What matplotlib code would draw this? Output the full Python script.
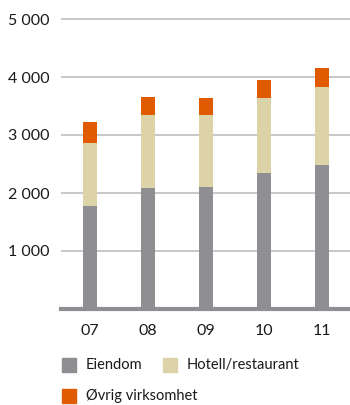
import matplotlib
matplotlib.use("Agg")
import matplotlib.pyplot as plt
from matplotlib.patches import Rectangle
import numpy as np

plt.rcParams['font.family'] = ['Lato', 'DejaVu Sans']

years = ["07", "08", "09", "10", "11"]
eiendom = [1776, 2086, 2103, 2345, 2483]
hotell = [1086, 1259, 1242, 1293, 1345]
ovrig = [362, 310, 293, 310, 327]
series_labels = ["Eiendom", "Hotell/restaurant", "Øvrig virksomhet"]
y_ticks = [1000, 2000, 3000, 4000, 5000]
y_tick_labels = ["1 000", "2 000", "3 000", "4 000", "5 000"]

colors = ["#8f8e93", "#ddd3a9", "#e05a00"]
grid_color = "#c3c3c3"

W, H = 350, 405
fig = plt.figure(figsize=(W / 100, H / 100), dpi=100)
# axes in pixel terms: left 61, baseline 309, 58 px per 1000
top_px = 309 - 5.1 * 58
ax = fig.add_axes([61 / W, 1 - 309 / H, 1 - 61 / W, (309 - top_px) / H])

x = np.arange(len(years))
w = 14 / 58
e = np.array(eiendom)
h = np.array(hotell)
o = np.array(ovrig)
ax.bar(x, e, w, color=colors[0], zorder=3)
ax.bar(x, h, w, bottom=e, color=colors[1], zorder=3)
ax.bar(x, o, w, bottom=e + h, color=colors[2], zorder=3)

ax.set_xlim(-0.5, (350 - 90) / 58)
ax.set_ylim(0, 5100)
for t in y_ticks:
    ax.axhline(t, color=grid_color, lw=1.3, zorder=1)
ax.axhline(0, color=colors[0], lw=3.0, zorder=4, clip_on=False)

ax.set_yticks(y_ticks)
ax.set_yticklabels(y_tick_labels)
ax.set_xticks(x)
ax.set_xticklabels(years)
ax.tick_params(axis="y", length=0, pad=8.5, labelsize=11.5, labelcolor="#1a1a1a")
ax.tick_params(axis="x", length=0, pad=11, labelsize=11.5, labelcolor="#1a1a1a")
for s in ax.spines.values():
    s.set_visible(False)

# legend drawn in figure pixels
legend_pos = [(62, 358), (163, 358), (62, 389)]
for (px, py), lab, c in zip(legend_pos, series_labels, colors):
    fig.add_artist(Rectangle((px / W, 1 - (py + 14) / H), 14 / W, 14 / H,
                             transform=fig.transFigure, color=c))
    fig.text((px + 24) / W, 1 - (py + 7) / H, lab, fontsize=10.5,
             va="center", ha="left", color="#1a1a1a")

fig.savefig("out.png", dpi=100)
